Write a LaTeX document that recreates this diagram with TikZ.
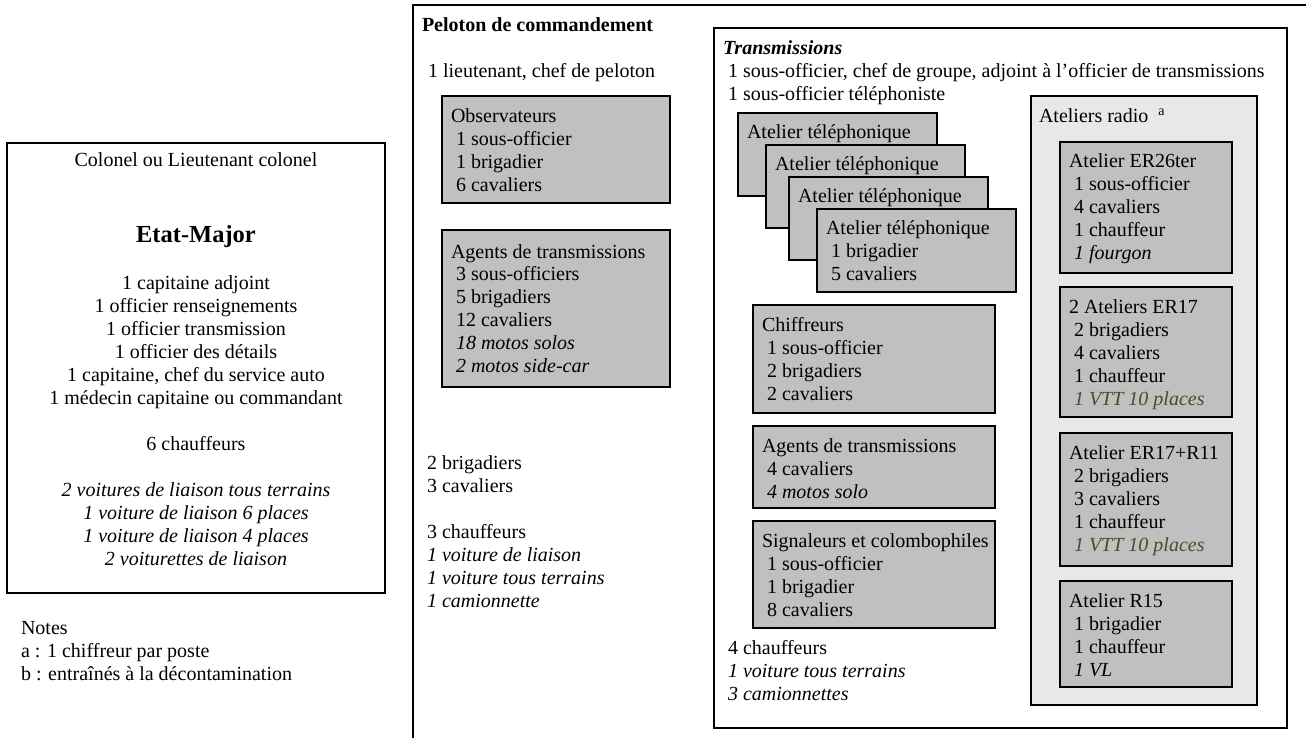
\documentclass[tikz,border=0pt]{standalone}
\usepackage{fontspec}
\setmainfont{Liberation Serif}
\definecolor{boxgrey}{RGB}{192,192,192}
\definecolor{radiogrey}{RGB}{232,232,232}
\definecolor{olivetxt}{RGB}{78,76,36}
\newcommand\tl[1]{\begin{tabular}[t]{@{}l@{}}#1\end{tabular}}
\newcommand\tc[1]{\begin{tabular}[t]{@{}c@{}}#1\end{tabular}}
\tikzset{
  frame/.style={draw, line width=1.6pt, fill=white, rectangle, inner sep=0pt, outer sep=0pt, anchor=north west},
  greybox/.style={draw, line width=1.4pt, fill=boxgrey, rectangle, inner sep=0pt, outer sep=0pt, anchor=north west},
  radiobox/.style={draw, line width=1.4pt, fill=radiogrey, rectangle, inner sep=0pt, outer sep=0pt, anchor=north west},
  txt/.style={anchor=base west, inner sep=0pt, outer sep=0pt},
  ctxt/.style={anchor=base, inner sep=0pt, outer sep=0pt},
  vtt/.style={}
}
\begin{document}
\begin{tikzpicture}[x=1pt, y=-1pt, font=\fontsize{20}{23}\selectfont]
\clip (0,0) rectangle (1306,738);
\fill[white] (0,0) rectangle (1306,738);

% Etat-Major
\node[frame, minimum width=378, minimum height=450] (etat) at (7,143) {};
\node[ctxt] (colonel) at (196,167) {Colonel ou Lieutenant colonel};
\node[ctxt, font=\bfseries\fontsize{24.5}{28}\selectfont] (etattitle) at (196,243) {Etat-Major};
\node[ctxt] (etatlines) at (196,289) {\tc{1 capitaine adjoint\\1 officier renseignements\\1 officier transmission\\1 officier des détails\\1 capitaine, chef du service auto\\1 médecin capitaine ou commandant\\ \\6 chauffeurs\\ \\\textit{2 voitures de liaison tous terrains}\\\textit{1 voiture de liaison 6 places}\\\textit{1 voiture de liaison 4 places}\\\textit{2 voiturettes de liaison}}};

% Notes
\node[txt] (notes) at (21,634) {\tl{Notes\\a : 1 chiffreur par poste\\b : entraînés à la décontamination}};

% Peloton de commandement
\node[frame, minimum width=917, minimum height=755] (peloton) at (413,5) {};
\node[txt, font=\bfseries\fontsize{20}{23}\selectfont] (peltitle) at (422,32) {Peloton de commandement};
\node[txt] (lieut) at (428,78) {1 lieutenant, chef de peloton};

\node[greybox, minimum width=228, minimum height=107] (obs) at (442,96) {};
\node[txt] (obstxt) at (451,123) {\tl{Observateurs\\~1 sous-officier\\~1 brigadier\\~6 cavaliers}};

\node[greybox, minimum width=228, minimum height=157] (agp) at (442,230) {};
\node[txt] (agptxt) at (451,258) {\tl{Agents de transmissions\\~3 sous-officiers\\~5 brigadiers\\~12 cavaliers\\~\textit{18 motos solos}\\~\textit{2 motos side-car}}};

\node[txt] (pellow) at (427,469) {\tl{2 brigadiers\\3 cavaliers\\ \\3 chauffeurs\\\textit{1 voiture de liaison}\\\textit{1 voiture tous terrains}\\\textit{1 camionnette}}};

% Transmissions
\node[frame, minimum width=573, minimum height=700] (trans) at (714,28) {};
\node[txt] (transtxt) at (723,55) {\tl{\textbf{\textit{Transmissions}}\\~1 sous-officier, chef de groupe, adjoint à l’officier de transmissions\\~1 sous-officier téléphoniste}};

\node[greybox, minimum width=199, minimum height=83] (tel1) at (738,113) {};
\node[txt] (tel1txt) at (747,139) {Atelier téléphonique};
\node[greybox, minimum width=199, minimum height=83] (tel2) at (766,145) {};
\node[txt] (tel2txt) at (775,171) {Atelier téléphonique};
\node[greybox, minimum width=199, minimum height=83] (tel3) at (789,177) {};
\node[txt] (tel3txt) at (798,203) {Atelier téléphonique};
\node[greybox, minimum width=199, minimum height=83] (tel4) at (817,209) {};
\node[txt] (tel4txt) at (826,234) {\tl{Atelier téléphonique\\~1 brigadier\\~5 cavaliers}};

\node[greybox, minimum width=242, minimum height=108] (chif) at (753,305) {};
\node[txt] (chiftxt) at (762,331) {\tl{Chiffreurs\\~1 sous-officier\\~2 brigadiers\\~2 cavaliers}};

\node[greybox, minimum width=242, minimum height=82] (agt) at (753,426) {};
\node[txt] (agttxt) at (762,452) {\tl{Agents de transmissions\\~4 cavaliers\\~\textit{4 motos solo}}};

\node[greybox, minimum width=242, minimum height=107] (sig) at (753,521) {};
\node[txt] (sigtxt) at (762,547) {\tl{Signaleurs et colombophiles\\~1 sous-officier\\~1 brigadier\\~8 cavaliers}};

\node[txt] (transchauf) at (723,654) {\tl{~4 chauffeurs\\~\textit{1 voiture tous terrains}\\~\textit{3 camionnettes}}};

% Ateliers radio
\node[radiobox, minimum width=226, minimum height=609] (radio) at (1031,96) {};
\node[txt] (radiotxt) at (1039,123) {Ateliers radio ~\textsuperscript{a}};

\node[greybox, minimum width=172, minimum height=131] (er26) at (1060,142) {};
\node[txt] (er26txt) at (1069,168) {\tl{Atelier ER26ter\\~1 sous-officier\\~4 cavaliers\\~1 chauffeur\\~\textit{1 fourgon}}};

\node[greybox, minimum width=172, minimum height=130] (er17) at (1060,287) {};
\node[txt] (er17txt) at (1069,313) {\tl{2 Ateliers ER17\\~2 brigadiers\\~4 cavaliers\\~1 chauffeur\\~\textcolor{olivetxt}{\textit{1 VTT 10 places}}}};

\node[greybox, minimum width=172, minimum height=133] (er17r) at (1060,433) {};
\node[txt] (er17rtxt) at (1069,459) {\tl{Atelier ER17+R11\\~2 brigadiers\\~3 cavaliers\\~1 chauffeur\\~\textcolor{olivetxt}{\textit{1 VTT 10 places}}}};

\node[greybox, minimum width=172, minimum height=106] (r15) at (1060,581) {};
\node[txt] (r15txt) at (1069,607) {\tl{Atelier R15\\~1 brigadier\\~1 chauffeur\\~\textit{1 VL}}};
\end{tikzpicture}
\end{document}
